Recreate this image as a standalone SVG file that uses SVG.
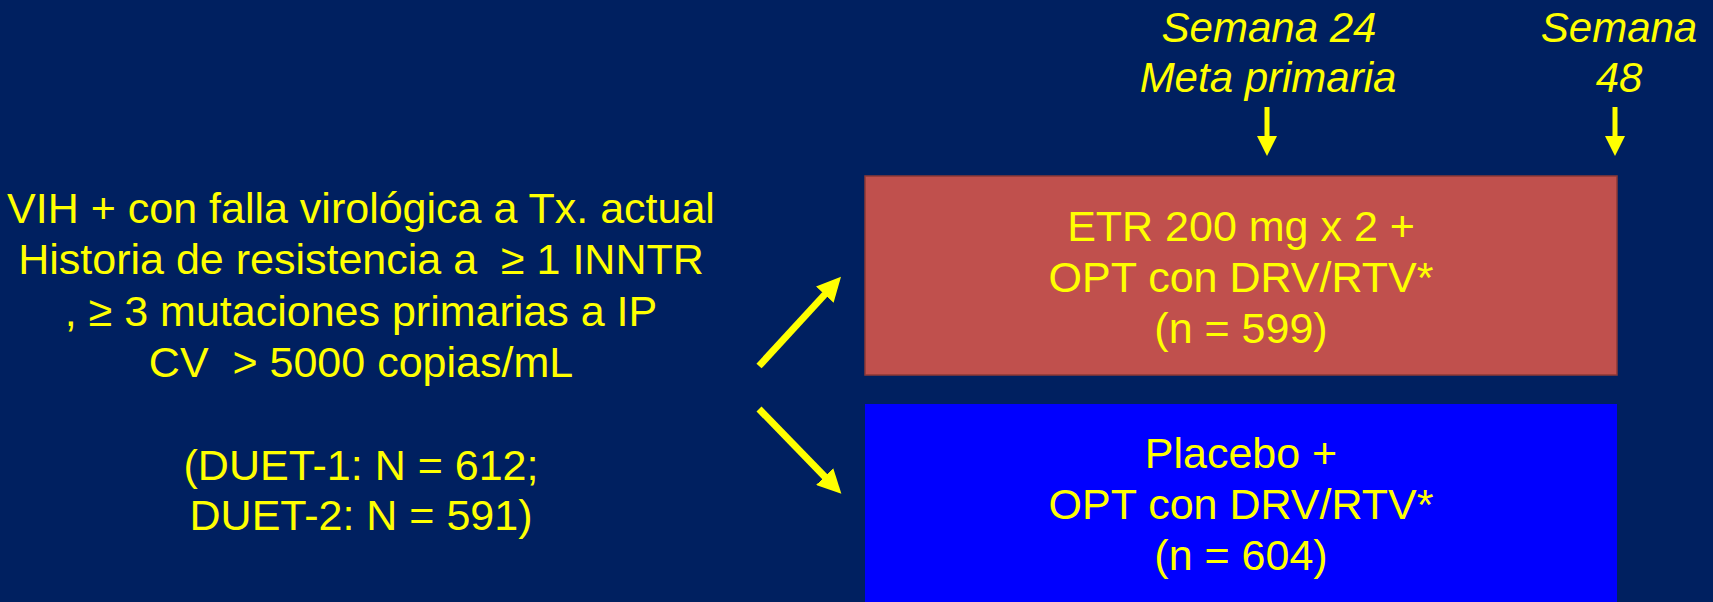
<svg xmlns="http://www.w3.org/2000/svg" width="1713" height="602" viewBox="0 0 1713 602">
<style>
text{font-family:"Liberation Sans",Arial,sans-serif;fill:#FFFF00;text-anchor:middle;white-space:pre}
.t{font-size:43px}
.it{font-size:42px;font-style:italic}
.ar{stroke:#FFFF00;fill:none}
</style>
<defs>
<marker id="hd" viewBox="0 0 10 10" refX="2" refY="5" markerWidth="24" markerHeight="24" markerUnits="userSpaceOnUse" orient="auto">
<path d="M0,0 L10,5 L0,10 z" fill="#FFFF00"/>
</marker>
<marker id="hs" viewBox="0 0 10 10" refX="2" refY="5" markerWidth="20" markerHeight="20" markerUnits="userSpaceOnUse" orient="auto">
<path d="M0,0 L10,5 L0,10 z" fill="#FFFF00"/>
</marker>
</defs>
<rect width="1713" height="602" fill="#002060"/>
<g id="criteria">
<text class="t" x="361" y="223" xml:space="preserve">VIH + con falla virológica a Tx. actual</text>
<text class="t" x="361" y="274" xml:space="preserve">Historia de resistencia a  ≥ 1 INNTR</text>
<text class="t" x="361" y="326" xml:space="preserve">, ≥ 3 mutaciones primarias a IP</text>
<text class="t" x="361" y="377" xml:space="preserve">CV  &gt; 5000 copias/mL</text>
<text class="t" x="361" y="480" xml:space="preserve">(DUET-1: N = 612;</text>
<text class="t" x="361" y="530" xml:space="preserve">DUET-2: N = 591)</text>
</g>
<g id="week24">
<text class="it" x="1269" y="42">Semana 24</text>
<text class="it" x="1268" y="92">Meta primaria</text>
</g>
<g id="week48">
<text class="it" x="1619" y="42">Semana</text>
<text class="it" x="1619" y="92">48</text>
</g>
<g id="etr">
<rect x="865" y="176" width="752" height="199" fill="#C0504D" stroke="#8C3836" stroke-width="1.5"/>
<text class="t" x="1241" y="241">ETR 200 mg x 2 +</text>
<text class="t" x="1241" y="292">OPT con DRV/RTV*</text>
<text class="t" x="1241" y="343">(n = 599)</text>
</g>
<g id="placebo">
<rect x="865" y="404" width="752" height="200" fill="#0000FF"/>
<text class="t" x="1241" y="468">Placebo +</text>
<text class="t" x="1241" y="519">OPT con DRV/RTV*</text>
<text class="t" x="1241" y="570">(n = 604)</text>
</g>
<g id="connectors">
<line class="ar" x1="759" y1="366" x2="828" y2="291" stroke-width="7" marker-end="url(#hd)"/>
<line class="ar" x1="759" y1="409" x2="828" y2="480" stroke-width="7" marker-end="url(#hd)"/>
<line class="ar" x1="1267" y1="107" x2="1267" y2="140" stroke-width="5" marker-end="url(#hs)"/>
<line class="ar" x1="1615" y1="107" x2="1615" y2="140" stroke-width="5" marker-end="url(#hs)"/>
</g>
</svg>
